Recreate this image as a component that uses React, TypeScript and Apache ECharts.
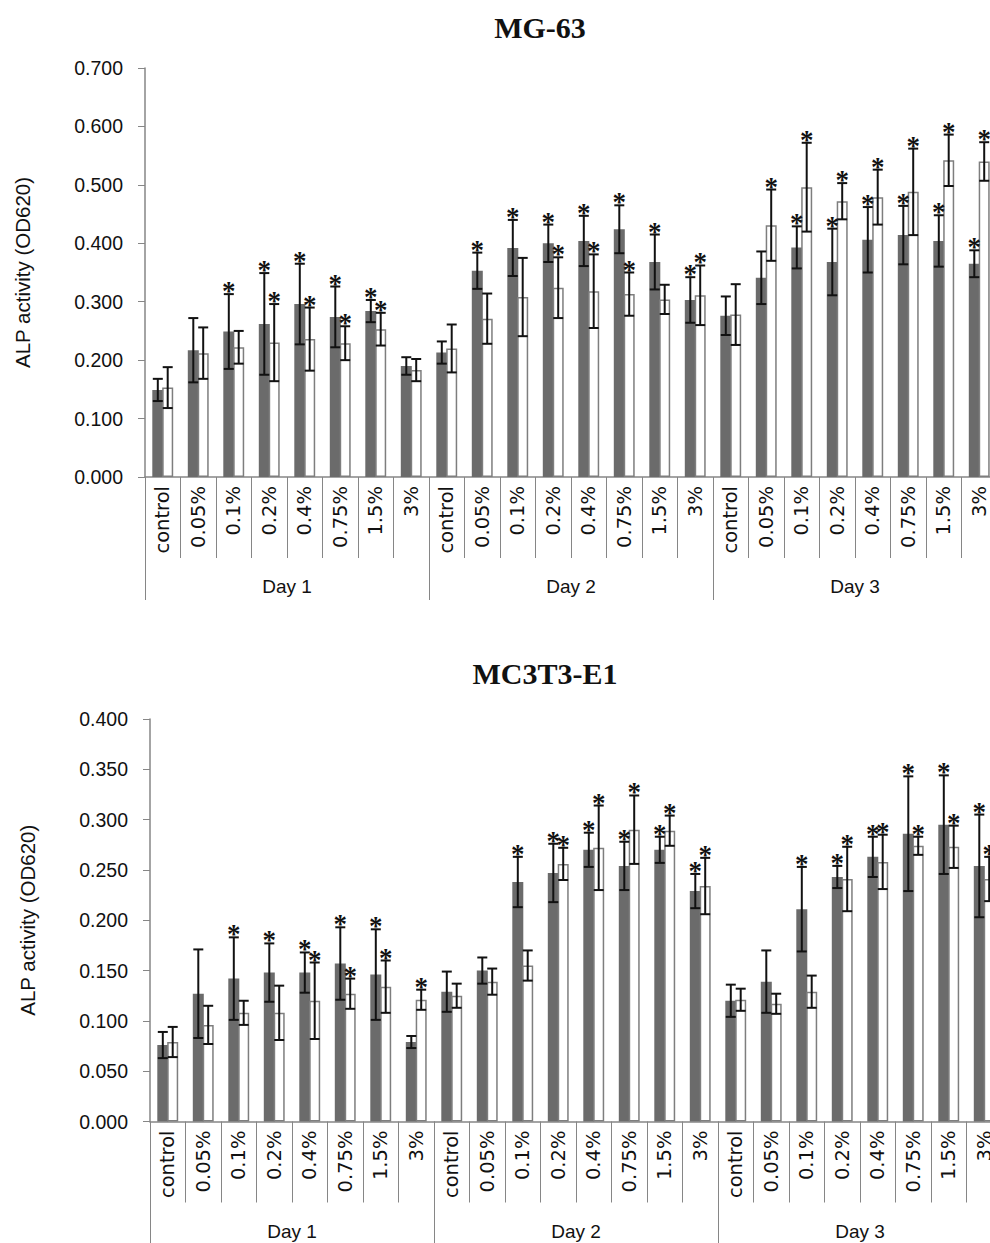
import React, { useEffect, useRef } from 'react';
import * as echarts from 'echarts';

const concentrations = ['control', '0.05%', '0.1%', '0.2%', '0.4%', '0.75%', '1.5%', '3%'];
const days = ['Day 1', 'Day 2', 'Day 3'];
const categories = days.flatMap(() => concentrations);

// MG-63 (Day 1 | Day 2 | Day 3)
const mgDark = [
  0.149, 0.217, 0.249, 0.262, 0.296, 0.274, 0.284, 0.190,
  0.213, 0.353, 0.392, 0.400, 0.404, 0.424, 0.368, 0.303,
  0.276, 0.341, 0.393, 0.368, 0.406, 0.414, 0.404, 0.365,
];
const mgDarkSd = [
  0.019, 0.055, 0.064, 0.087, 0.069, 0.052, 0.019, 0.015,
  0.019, 0.031, 0.048, 0.032, 0.043, 0.041, 0.047, 0.039,
  0.033, 0.045, 0.036, 0.057, 0.056, 0.050, 0.044, 0.023,
];
const mgDarkStar = [
  0, 0, 1, 1, 1, 1, 1, 0,
  0, 1, 1, 1, 1, 1, 1, 1,
  0, 0, 1, 1, 1, 1, 1, 1,
];
const mgWhite = [
  0.153, 0.212, 0.222, 0.230, 0.236, 0.229, 0.253, 0.183,
  0.220, 0.271, 0.308, 0.324, 0.318, 0.313, 0.304, 0.311,
  0.278, 0.431, 0.496, 0.472, 0.479, 0.488, 0.542, 0.540,
];
const mgWhiteSd = [
  0.035, 0.044, 0.028, 0.066, 0.054, 0.029, 0.028, 0.019,
  0.041, 0.043, 0.067, 0.052, 0.063, 0.037, 0.025, 0.051,
  0.052, 0.061, 0.076, 0.031, 0.047, 0.074, 0.044, 0.033,
];
const mgWhiteStar = [
  0, 0, 0, 1, 1, 1, 1, 0,
  0, 0, 0, 1, 1, 1, 0, 1,
  0, 1, 1, 1, 1, 1, 1, 1,
];

// MC3T3-E1
const mcDark = [
  0.076, 0.127, 0.142, 0.148, 0.148, 0.157, 0.146, 0.079,
  0.129, 0.150, 0.238, 0.247, 0.270, 0.254, 0.270, 0.229,
  0.120, 0.139, 0.211, 0.243, 0.263, 0.286, 0.295, 0.254,
];
const mcDarkSd = [
  0.013, 0.044, 0.041, 0.029, 0.020, 0.036, 0.045, 0.006,
  0.020, 0.013, 0.025, 0.029, 0.017, 0.024, 0.013, 0.017,
  0.016, 0.031, 0.042, 0.011, 0.020, 0.057, 0.049, 0.051,
];
const mcDarkStar = [
  0, 0, 1, 1, 1, 1, 1, 0,
  0, 0, 1, 1, 1, 1, 1, 1,
  0, 0, 1, 1, 1, 1, 1, 1,
];
const mcWhite = [
  0.079, 0.096, 0.108, 0.108, 0.120, 0.127, 0.134, 0.121,
  0.125, 0.139, 0.155, 0.256, 0.272, 0.290, 0.289, 0.234,
  0.121, 0.117, 0.129, 0.241, 0.258, 0.274, 0.273, 0.241,
];
const mcWhiteSd = [
  0.015, 0.019, 0.012, 0.027, 0.038, 0.015, 0.026, 0.010,
  0.012, 0.013, 0.015, 0.016, 0.042, 0.034, 0.015, 0.028,
  0.011, 0.010, 0.016, 0.032, 0.027, 0.009, 0.021, 0.022,
];
const mcWhiteStar = [
  0, 0, 0, 0, 1, 1, 1, 1,
  0, 0, 0, 1, 1, 1, 1, 1,
  0, 0, 0, 1, 1, 1, 1, 1,
];

const AXIS_GRAY = '#868686';
const BAR_W = 11;
const GAP = -0.1;
const OFFSET = (BAR_W + BAR_W * GAP) / 2;

function errRender(side: number) {
  return (params: any, api: any) => {
    const i = api.value(0);
    const m = api.value(1);
    const sd = api.value(2);
    const star = api.value(3);
    const c = api.coord([i, m]);
    const x = c[0] + side * OFFSET;
    const top = api.coord([i, m + sd])[1];
    const bot = api.coord([i, m - sd])[1];
    const st = { stroke: '#111', lineWidth: 2 };
    const children: any[] = [
      { type: 'line', shape: { x1: x, y1: top, x2: x, y2: bot }, style: st },
      { type: 'line', shape: { x1: x - 5, y1: top, x2: x + 5, y2: top }, style: st },
      { type: 'line', shape: { x1: x - 5, y1: bot, x2: x + 5, y2: bot }, style: st },
    ];
    if (star) {
      children.push({
        type: 'text',
        x,
        y: top - 3,
        style: {
          text: '*',
          font: 'bold 27px "Liberation Serif"',
          fill: '#111',
          align: 'center',
          verticalAlign: 'middle',
        },
      });
    }
    return { type: 'group', children };
  };
}

function errData(mean: number[], sd: number[], star: number[]) {
  return mean.map((m, i) => [i, m, sd[i], star[i]]);
}

export default function App() {
  const ref = useRef<HTMLDivElement>(null);
  useEffect(() => {
    const chart = echarts.init(ref.current!, null, { renderer: 'svg' });
    const grids = [
      { left: 145, top: 68, width: 852, height: 409 },
      { left: 150, top: 719, width: 852, height: 402.5 },
    ];
    const xAxes: any[] = [];
    const yAxes: any[] = [];
    const series: any[] = [];
    const sets = [
      { dark: mgDark, darkSd: mgDarkSd, darkStar: mgDarkStar, white: mgWhite, whiteSd: mgWhiteSd, whiteStar: mgWhiteStar, max: 0.7, interval: 0.1, dayTick: 123 },
      { dark: mcDark, darkSd: mcDarkSd, darkStar: mcDarkStar, white: mcWhite, whiteSd: mcWhiteSd, whiteStar: mcWhiteStar, max: 0.4, interval: 0.05, dayTick: 135 },
    ];
    sets.forEach((s, g) => {
      const xi = xAxes.length;
      xAxes.push({
        type: 'category',
        gridIndex: g,
        data: categories,
        position: 'bottom',
        offset: 0,
        axisLine: { show: true, lineStyle: { color: AXIS_GRAY, width: 1.5 } },
        axisTick: { show: true, interval: 0, length: 81, lineStyle: { color: AXIS_GRAY, width: 1 } },
        axisLabel: { interval: 0, rotate: 90, margin: 9, fontSize: 19.5, fontFamily: 'DejaVu Sans', color: '#111' },
        splitLine: { show: false },
      });
      xAxes.push({
        type: 'category',
        gridIndex: g,
        data: days,
        position: 'bottom',
        offset: 0,
        axisLine: { show: false },
        axisTick: { show: true, interval: 0, length: s.dayTick, lineStyle: { color: AXIS_GRAY, width: 1 } },
        axisLabel: { interval: 0, margin: 100, fontSize: 19, fontFamily: 'Liberation Sans', color: '#111' },
        splitLine: { show: false },
      });
      yAxes.push({
        type: 'value',
        gridIndex: g,
        min: 0,
        max: s.max,
        interval: s.interval,
        name: 'ALP activity (OD620)',
        nameLocation: 'middle',
        nameGap: 112,
        nameTextStyle: { fontSize: 20.5, fontFamily: 'Liberation Sans', color: '#111' },
        axisLine: { show: true, lineStyle: { color: AXIS_GRAY, width: 1.5 } },
        axisTick: { show: true, length: 7, lineStyle: { color: AXIS_GRAY } },
        axisLabel: { margin: 22, fontSize: 19.5, fontFamily: 'Liberation Sans', color: '#111', formatter: (v: number) => v.toFixed(3) },
        splitLine: { show: false },
      });
      series.push({
        type: 'bar',
        xAxisIndex: xi,
        yAxisIndex: g,
        data: s.dark,
        barWidth: BAR_W,
        barGap: '-10%',
        itemStyle: { color: '#6b6b6b' },
      });
      series.push({
        type: 'bar',
        xAxisIndex: xi,
        yAxisIndex: g,
        data: s.white,
        barWidth: BAR_W,
        itemStyle: { color: '#ffffff', borderColor: '#7e7e7e', borderWidth: 1.5 },
      });
      series.push({
        type: 'custom',
        xAxisIndex: xi,
        yAxisIndex: g,
        renderItem: errRender(-1),
        data: errData(s.dark, s.darkSd, s.darkStar),
        encode: { x: 0, y: 1 },
        z: 5,
      });
      series.push({
        type: 'custom',
        xAxisIndex: xi,
        yAxisIndex: g,
        renderItem: errRender(1),
        data: errData(s.white, s.whiteSd, s.whiteStar),
        encode: { x: 0, y: 1 },
        z: 5,
      });
    });
    chart.setOption({
      animation: false,
      backgroundColor: '#ffffff',
      grid: grids,
      xAxis: xAxes,
      yAxis: yAxes,
      series,
      graphic: [
        { type: 'text', x: 540, y: 27, style: { text: 'MG-63', font: 'bold 30px "Liberation Serif"', fill: '#111', align: 'center', verticalAlign: 'middle' } },
        { type: 'text', x: 545, y: 673, style: { text: 'MC3T3-E1', font: 'bold 30px "Liberation Serif"', fill: '#111', align: 'center', verticalAlign: 'middle' } },
      ],
    });
    return () => chart.dispose();
  }, []);
  return (
    <div style={{ position: 'absolute', left: 0, top: 0, width: 990, height: 1243, overflow: 'hidden', background: '#fff' }}>
      <div ref={ref} style={{ width: 1010, height: 1243 }} />
    </div>
  );
}
